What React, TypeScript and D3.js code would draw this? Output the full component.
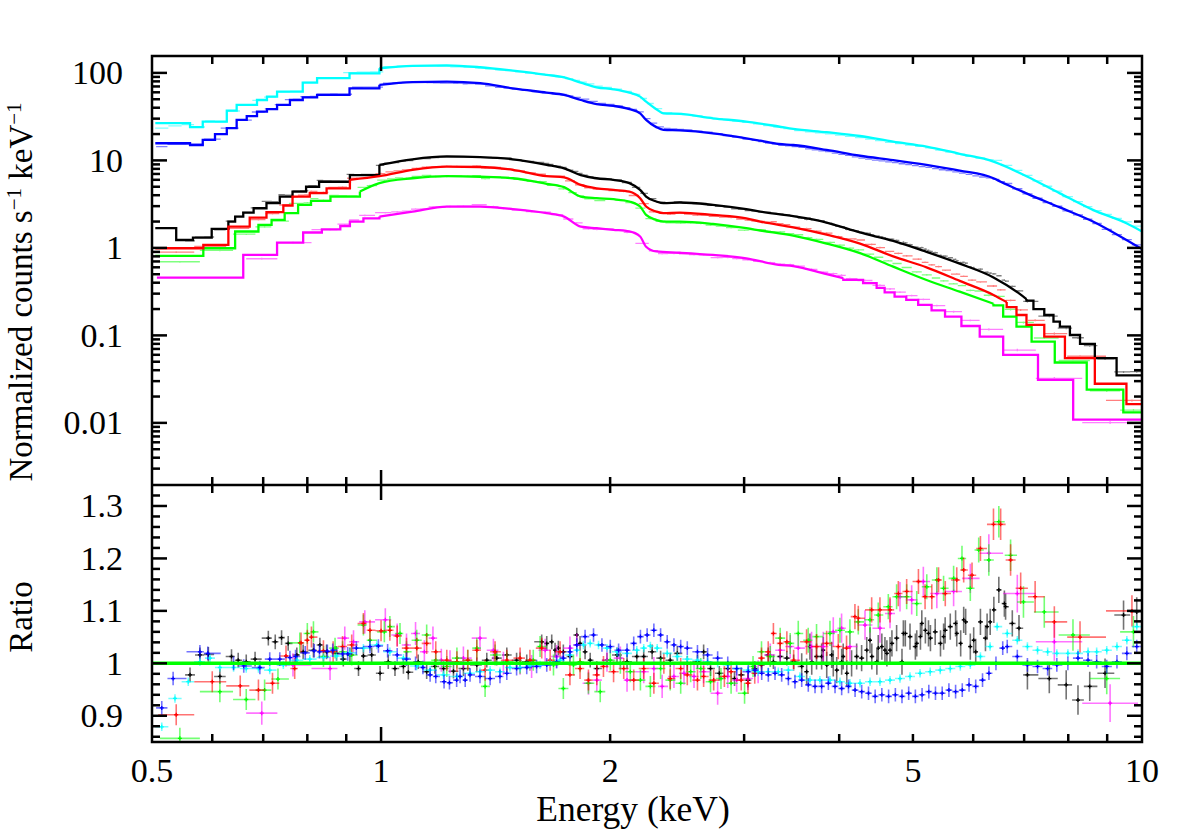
import React from 'react'
import * as d3 from 'd3'

type Pt = [number, number]

// ---------- upper panel: folded model, counts s^-1 keV^-1 ----------
// steps = coarse bins [E_left, value]; smooth = dense part [E, value]; tail = coarse bins at high E

const cyanSteps: Pt[] = [[0.505, 26.6], [0.561, 24.0], [0.583, 27.8], [0.627, 37], [0.646, 43], [0.687, 49], [0.708, 53.6], [0.73, 61], [0.789, 77.5], [0.824, 87], [0.909, 99]]
const cyanSmooth: Pt[] = [[0.995, 113], [1.1, 120], [1.22, 122], [1.35, 116], [1.49, 106], [1.65, 95], [1.74, 89], [1.83, 77.5], [1.92, 68.5], [2.02, 65], [2.12, 59.5], [2.19, 53.6], [2.23, 47], [2.3, 38.5], [2.35, 34.5], [2.47, 34], [2.73, 30.3], [3.02, 27.8], [3.33, 24.4], [3.48, 22.9], [3.85, 21], [4.26, 19.0], [4.71, 16.4], [5.21, 14.4], [5.76, 11.9], [6.38, 9.7], [6.52, 9.0], [7.05, 6.6], [7.8, 4.2], [8.62, 2.72], [9.54, 1.91], [10, 1.54]]
const cyanTail: Pt[] = []

const blueSteps: Pt[] = [[0.505, 15.7], [0.561, 15.0], [0.583, 17.2], [0.605, 20], [0.627, 23.4], [0.646, 29], [0.666, 32], [0.687, 36], [0.708, 38.5], [0.73, 43], [0.759, 49], [0.789, 52.5], [0.824, 56], [0.909, 66.6]]
const blueSmooth: Pt[] = [[0.995, 73], [1.1, 78.5], [1.22, 79.5], [1.35, 76.2], [1.49, 66.6], [1.65, 59.5], [1.74, 56], [1.83, 49], [1.92, 44], [2.02, 42], [2.12, 38.5], [2.19, 34.5], [2.23, 29], [2.3, 24], [2.35, 22.3], [2.47, 22], [2.73, 20.4], [3.02, 17.9], [3.15, 16.8], [3.33, 15.4], [3.48, 15.0], [3.85, 13.2], [4.26, 11.3], [4.71, 10.1], [5.21, 8.9], [5.76, 7.65], [6.38, 6.25], [6.52, 5.7], [7.05, 4.2], [7.8, 2.9], [8.62, 2.0], [9.54, 1.23], [10, 0.97]]
const blueTail: Pt[] = []

const blackSteps: Pt[] = [[0.505, 1.68], [0.538, 1.23], [0.566, 1.31], [0.599, 1.65], [0.63, 2.0], [0.643, 2.28], [0.659, 2.53], [0.68, 2.84], [0.707, 3.24], [0.736, 3.86], [0.765, 4.4], [0.797, 5.0], [0.829, 5.7], [0.91, 6.8]]
const blackSmooth: Pt[] = [[0.995, 8.9], [1.1, 10.3], [1.22, 11.1], [1.35, 10.9], [1.49, 10.3], [1.65, 8.9], [1.74, 8.1], [1.83, 6.8], [1.92, 6.25], [2.02, 6.0], [2.12, 5.5], [2.19, 4.6], [2.23, 3.86], [2.3, 3.39], [2.35, 3.24], [2.47, 3.3], [2.73, 3.1], [3.02, 2.77], [3.15, 2.6], [3.48, 2.3], [3.85, 1.95], [4.26, 1.5], [4.71, 1.2], [5.21, 0.9], [5.76, 0.66], [6.38, 0.46], [6.9, 0.3], [7.05, 0.26]]
const blackTail: Pt[] = [[7.05, 0.25], [7.2, 0.2], [7.44, 0.171], [7.65, 0.144], [7.8, 0.126], [8.04, 0.101], [8.29, 0.08], [8.67, 0.055], [9.26, 0.035]]

const redSteps: Pt[] = [[0.505, 0.99], [0.584, 1.08], [0.63, 1.75], [0.672, 2.22], [0.707, 2.56], [0.744, 3.05], [0.765, 3.86], [0.806, 4.22], [0.848, 4.8]]
const redSmooth: Pt[] = [[0.91, 6.0], [0.995, 6.6], [1.1, 7.8], [1.22, 8.5], [1.35, 8.4], [1.49, 7.8], [1.65, 6.6], [1.74, 6.4], [1.83, 5.25], [1.92, 4.8], [2.02, 4.6], [2.12, 4.4], [2.19, 3.7], [2.23, 2.97], [2.3, 2.6], [2.35, 2.49], [2.47, 2.53], [2.73, 2.38], [3.02, 2.18], [3.15, 2.0], [3.48, 1.72], [3.85, 1.42], [4.26, 1.12], [4.71, 0.8], [5.21, 0.6], [5.76, 0.42], [6.38, 0.29], [6.64, 0.24]]
const redTail: Pt[] = [[6.64, 0.21], [6.84, 0.171], [7.05, 0.132], [7.44, 0.097], [7.92, 0.055], [8.67, 0.028], [9.54, 0.0164]]

const greenSteps: Pt[] = [[0.505, 0.81], [0.584, 0.99], [0.643, 1.54], [0.69, 1.83], [0.718, 2.09], [0.747, 2.49], [0.778, 3.1], [0.809, 3.45], [0.858, 3.86]]
const greenSmooth: Pt[] = [[0.938, 4.4], [0.995, 5.5], [1.1, 6.25], [1.22, 6.6], [1.35, 6.5], [1.49, 6.25], [1.65, 5.4], [1.74, 4.94], [1.83, 3.86], [1.92, 3.7], [2.02, 3.6], [2.12, 3.39], [2.19, 2.97], [2.23, 2.38], [2.3, 2.09], [2.35, 2.0], [2.47, 2.0], [2.73, 1.88], [3.02, 1.68], [3.15, 1.58], [3.48, 1.38], [3.85, 1.12], [4.26, 0.87], [4.71, 0.61], [5.21, 0.43], [5.76, 0.316], [6.38, 0.23]]
const greenTail: Pt[] = [[6.38, 0.22], [6.57, 0.164], [6.84, 0.126], [7.16, 0.085], [7.68, 0.049], [8.46, 0.024], [9.45, 0.0132]]

const magentaSteps: Pt[] = [[0.5075, 0.457], [0.659, 0.83], [0.73, 1.15], [0.79, 1.5], [0.836, 1.63], [0.884, 1.78], [0.91, 2.0], [0.948, 2.18]]
const magentaSmooth: Pt[] = [[0.995, 2.28], [1.1, 2.6], [1.22, 2.97], [1.35, 2.97], [1.49, 2.77], [1.65, 2.49], [1.74, 2.28], [1.83, 1.75], [1.92, 1.68], [2.02, 1.61], [2.12, 1.54], [2.19, 1.35], [2.23, 1.03], [2.3, 0.91], [2.47, 0.88], [2.73, 0.83], [3.02, 0.76], [3.33, 0.64], [3.48, 0.62], [3.85, 0.5], [4.05, 0.45]]
const magentaTail: Pt[] = [[4.05, 0.43], [4.3, 0.395], [4.48, 0.35], [4.59, 0.31], [4.73, 0.277], [4.9, 0.254], [5.08, 0.223], [5.29, 0.193], [5.51, 0.164], [5.79, 0.128], [6.12, 0.097], [6.57, 0.06], [7.3, 0.031], [8.12, 0.0109]]

// ---------- lower panel: data / model ratio [E, ratio] ----------
const blackRatio: Pt[] = [[0.561, 0.978], [0.578, 1.016], [0.593, 1.017], [0.614, 0.975], [0.636, 1.013], [0.649, 1.006], [0.665, 1.003], [0.683, 1.008], [0.711, 1.048], [0.726, 1.041], [0.74, 1.049], [0.755, 1.038], [0.775, 1.016], [0.79, 1.022], [0.815, 1.025], [0.831, 1.035], [0.848, 1.022], [0.874, 1.019], [0.892, 1.008], [0.91, 1.016], [0.934, 0.99], [0.948, 1.014], [0.972, 1.016], [0.997, 0.981], [1.022, 1.003], [1.043, 0.99], [1.07, 0.994], [1.086, 0.983], [1.119, 1.003], [1.148, 0.984], [1.177, 0.994], [1.208, 0.99], [1.245, 0.985], [1.283, 0.99],
  [1.336, 0.997], [1.377, 1.006], [1.419, 1.01], [1.463, 1.016], [1.507, 1.006], [1.554, 1.003], [1.626, 1.041], [1.651, 1.038], [1.676, 1.041], [1.693, 1.025], [1.71, 1.029], [1.736, 1.022], [1.771, 1.013], [1.808, 1.054], [1.826, 1.038], [1.854, 1.022], [1.883, 1.006], [1.921, 0.99], [1.981, 1.006], [2.042, 1.016], [2.105, 1.003], [2.168, 1.013], [2.214, 1.013], [2.271, 1.022], [2.33, 1.01], [2.399, 1.006], [2.451, 1.019], [2.526, 1.0], [2.605, 1.003], [2.654, 1.022], [2.71, 0.99], [2.783, 0.981], [2.855, 0.99], [2.914, 0.971], [2.974, 0.978], [3.035, 0.968], [3.098, 0.99], [3.162, 0.997], [3.227, 1.016], [3.278, 1.003], [3.346, 1.013], [3.414, 1.01], [3.485, 1.003],
  [3.571, 0.994], [3.625, 0.984], [3.661, 1.032], [3.681, 1.003], [3.735, 1.013], [3.793, 1.013], [3.812, 1.025], [3.852, 0.997], [3.91, 1.016], [3.929, 1.0], [3.97, 0.987], [4.03, 1.003], [4.049, 1.013], [4.093, 0.981], [4.153, 1.0], [4.217, 1.013], [4.281, 1.01], [4.348, 1.025], [4.391, 1.044], [4.415, 1.013], [4.483, 1.003], [4.502, 1.029], [4.551, 1.032], [4.594, 1.025], [4.621, 1.019], [4.665, 1.025], [4.692, 1.038], [4.759, 1.048], [4.837, 1.003], [4.857, 1.057], [4.886, 1.057], [4.956, 1.051], [5.037, 1.032], [5.058, 1.038], [5.115, 1.051], [5.136, 1.076], [5.192, 1.063], [5.241, 1.057], [5.272, 1.048], [5.348, 1.06], [5.435, 1.038], [5.486, 1.051], [5.512, 1.063], [5.598, 1.07], [5.689, 1.076], [5.709, 1.057], [5.777, 1.038], [5.83, 1.083], [5.865, 1.079], [5.948, 1.032], [6.009, 1.044], [6.046, 1.022], [6.133, 1.079], [6.227, 1.048], [6.258, 1.07], [6.317, 1.079], [6.387, 1.102], [6.484, 1.14], [6.594, 1.114], [6.618, 1.108], [6.754, 1.076], [6.892, 1.067],
  [7.07, 0.978], [7.554, 0.971], [7.95, 0.959], [8.239, 0.93], [8.537, 0.956], [8.942, 0.981], [9.457, 1.092], [9.842, 1.098]]

const redRatio: Pt[] = [[0.538, 0.902], [0.6, 0.965], [0.653, 0.957], [0.69, 0.949], [0.72, 0.962], [0.75, 1.014], [0.77, 0.99], [0.785, 1.039], [0.8, 1.044], [0.81, 1.05], [0.84, 1.024], [0.865, 1.022], [0.89, 1.032], [0.915, 1.035], [0.948, 1.076], [0.967, 1.063], [1.0, 1.062], [1.027, 1.063], [1.05, 1.052], [1.08, 1.029], [1.114, 1.029], [1.148, 1.038], [1.18, 1.022], [1.22, 1.006], [1.258, 1.003], [1.3, 1.006],
  [1.336, 1.025], [1.37, 0.987], [1.412, 1.022], [1.463, 1.006], [1.523, 1.01], [1.569, 1.006], [1.626, 1.029], [1.668, 1.006], [1.719, 1.022], [1.771, 0.978], [1.826, 0.99], [1.873, 0.968], [1.921, 0.978], [1.96, 0.994], [2.021, 0.984], [2.084, 0.99], [2.148, 0.968], [2.214, 0.99], [2.283, 0.962], [2.353, 1.0], [2.399, 0.971], [2.476, 0.99], [2.526, 0.978], [2.605, 0.968], [2.654, 0.975], [2.736, 0.968], [2.826, 0.975], [2.884, 0.984], [2.974, 0.968], [3.035, 0.962], [3.098, 0.981], [3.162, 1.01], [3.227, 1.022], [3.278, 1.057], [3.346, 1.038], [3.414, 1.041], [3.485, 1.006],
  [3.624, 1.041], [3.735, 1.032], [3.851, 1.038], [3.989, 1.032], [4.09, 1.029], [4.195, 1.089], [4.238, 1.086], [4.413, 1.102], [4.525, 1.102], [4.665, 1.102], [4.784, 1.133], [4.906, 1.137], [5.084, 1.156], [5.187, 1.127], [5.294, 1.127], [5.403, 1.159], [5.514, 1.133], [5.709, 1.159], [5.83, 1.178], [5.979, 1.168], [6.133, 1.219], [6.38, 1.265], [6.52, 1.265], [6.719, 1.197], [6.927, 1.143], [7.237, 1.127], [7.67, 1.079], [8.29, 1.05], [9.7, 1.1]]

const greenRatio: Pt[] = [[0.544, 0.857], [0.614, 0.946], [0.665, 0.931], [0.703, 0.949], [0.732, 0.97], [0.782, 1.039], [0.8, 1.057], [0.815, 1.06], [0.84, 1.013], [0.87, 1.029], [0.89, 1.022], [0.915, 1.016], [0.948, 1.073], [0.967, 1.044], [1.01, 1.06], [1.027, 1.07], [1.059, 1.057], [1.08, 1.022], [1.114, 1.044], [1.148, 1.054], [1.18, 1.006], [1.22, 0.994], [1.258, 1.01], [1.3, 1.006],
  [1.336, 1.029], [1.37, 0.956], [1.412, 1.016], [1.463, 1.003], [1.523, 1.0], [1.585, 1.006], [1.618, 1.032], [1.685, 0.997], [1.736, 0.952], [1.79, 0.997], [1.826, 1.003], [1.873, 0.962], [1.941, 0.946], [2.001, 1.006], [2.063, 1.0], [2.126, 0.984], [2.192, 0.968], [2.259, 0.956], [2.33, 0.99], [2.399, 0.968], [2.476, 0.962], [2.552, 0.984], [2.631, 0.99], [2.71, 0.965], [2.797, 0.971], [2.884, 0.962], [3.004, 0.943], [3.082, 0.994], [3.162, 1.022], [3.247, 1.013], [3.346, 1.048], [3.449, 1.038],
  [3.534, 1.057], [3.642, 1.044], [3.735, 1.051], [3.89, 1.057], [4.009, 1.063], [4.132, 1.06], [4.238, 1.079], [4.391, 1.083], [4.502, 1.092], [4.641, 1.108], [4.759, 1.127], [4.906, 1.127], [5.058, 1.114], [5.214, 1.146], [5.375, 1.159], [5.486, 1.143], [5.655, 1.162], [5.8, 1.2], [5.948, 1.143], [6.101, 1.216], [6.291, 1.197], [6.484, 1.27], [6.719, 1.206], [6.986, 1.117], [7.44, 1.098], [8.115, 1.054], [8.988, 0.971], [9.745, 1.06]]

const magentaRatio: Pt[] = [[0.697, 0.905], [0.766, 0.997], [0.857, 0.99], [0.896, 1.048], [0.92, 1.041], [0.952, 1.079], [1.013, 1.083], [1.05, 1.054], [1.08, 1.035], [1.11, 1.057], [1.14, 1.022], [1.17, 1.048], [1.2, 1.006], [1.232, 1.003], [1.283, 1.01],
  [1.349, 1.048], [1.405, 1.025], [1.448, 1.0], [1.523, 1.0], [1.577, 0.994], [1.643, 1.025], [1.701, 1.013], [1.771, 1.029], [1.808, 1.035], [1.873, 0.962], [1.921, 0.968], [1.981, 1.006], [2.063, 1.01], [2.105, 0.968], [2.214, 0.984], [2.283, 0.99], [2.341, 0.956], [2.426, 0.975], [2.501, 0.981], [2.578, 0.975], [2.654, 0.984], [2.769, 0.943], [2.855, 0.975], [2.933, 0.968], [3.035, 0.971], [3.13, 0.984], [3.247, 1.016], [3.346, 1.025], [3.449, 1.032],
  [3.534, 1.029], [3.679, 1.032], [3.812, 1.032], [3.929, 1.06], [4.029, 1.067], [4.132, 1.032], [4.325, 1.073], [4.525, 1.067], [4.665, 1.095], [4.808, 1.127], [4.981, 1.121], [5.16, 1.156], [5.375, 1.133], [5.655, 1.137], [5.948, 1.162], [6.291, 1.21], [6.857, 1.133], [7.67, 1.041], [9.08, 0.924]]

const blueRatio: Pt[] = [[0.515, 0.915], [0.533, 0.971], [0.578, 1.022], [0.592, 1.019], [0.64, 1.0], [0.66, 0.995], [0.693, 0.992], [0.714, 1.008], [0.736, 1.008], [0.759, 1.011], [0.772, 1.013], [0.795, 1.02], [0.817, 1.024], [0.83, 1.022], [0.85, 1.023], [0.864, 1.025], [0.89, 1.018], [0.904, 1.018], [0.928, 1.029], [0.967, 1.032], [0.992, 1.033], [1.02, 1.024], [1.05, 1.016], [1.08, 1.008], [1.11, 1.0], [1.135, 0.992], [1.16, 0.978], [1.18, 0.975], [1.21, 0.965], [1.23, 0.963], [1.257, 0.968], [1.27, 0.975], [1.29, 0.968],
  [1.309, 0.978], [1.349, 0.975], [1.391, 0.971], [1.433, 0.975], [1.463, 0.981], [1.507, 0.99], [1.554, 0.992], [1.601, 0.994], [1.651, 0.997], [1.701, 1.003], [1.736, 1.01], [1.771, 1.022], [1.808, 1.035], [1.854, 1.051], [1.902, 1.054], [1.951, 1.035], [2.001, 1.032], [2.052, 1.025], [2.105, 1.025], [2.148, 1.038], [2.192, 1.051], [2.237, 1.054], [2.283, 1.063], [2.33, 1.054], [2.377, 1.041], [2.426, 1.035], [2.476, 1.032], [2.526, 1.029], [2.605, 1.022], [2.686, 1.016], [2.769, 1.01], [2.855, 1.0], [2.933, 0.99],
  [3.038, 0.984], [3.1, 0.987], [3.164, 0.981], [3.228, 0.978], [3.294, 0.981], [3.361, 0.978], [3.43, 0.971], [3.499, 0.965], [3.571, 0.968], [3.643, 0.959], [3.718, 0.956], [3.793, 0.956], [3.871, 0.962], [3.95, 0.956], [4.03, 0.952], [4.114, 0.956], [4.197, 0.949], [4.282, 0.946], [4.371, 0.943], [4.46, 0.937], [4.551, 0.94], [4.645, 0.937], [4.741, 0.94], [4.837, 0.937], [4.936, 0.943], [5.037, 0.937], [5.14, 0.94], [5.246, 0.946], [5.353, 0.943], [5.463, 0.943], [5.575, 0.949], [5.689, 0.946], [5.805, 0.949], [5.925, 0.959], [6.046, 0.956], [6.172, 0.968], [6.293, 0.981], [6.428, 1.0], [6.561, 1.029],
  [6.651, 1.032], [6.857, 1.013], [7.07, 0.997], [7.29, 0.994], [7.516, 0.99], [7.728, 0.997], [7.991, 1.0], [8.239, 1.01], [8.494, 1.006], [8.718, 1.003], [8.988, 0.994], [9.27, 1.003], [9.552, 1.019], [9.842, 1.032]]

const cyanRatio: Pt[] = [[0.515, 0.879], [0.536, 0.933], [0.558, 0.965], [0.578, 1.003], [0.596, 1.01], [0.614, 0.992], [0.64, 0.992], [0.665, 0.99], [0.69, 0.99], [0.714, 0.987], [0.744, 0.997], [0.775, 1.006], [0.806, 1.008], [0.84, 1.011], [0.874, 1.014], [0.91, 1.02], [0.948, 1.029], [0.987, 1.035], [1.027, 1.022], [1.07, 1.01], [1.114, 0.995], [1.16, 0.987], [1.208, 0.978], [1.258, 0.975],
  [1.309, 0.981], [1.349, 0.984], [1.391, 0.987], [1.433, 0.984], [1.477, 0.992], [1.523, 0.992], [1.569, 0.995], [1.618, 0.997], [1.668, 1.0], [1.719, 1.006], [1.771, 1.016], [1.808, 1.025], [1.845, 1.035], [1.883, 1.038], [1.931, 1.035], [1.981, 1.029], [2.042, 1.022], [2.105, 1.019], [2.168, 1.025], [2.214, 1.029], [2.259, 1.033], [2.306, 1.029], [2.377, 1.019], [2.451, 1.013], [2.526, 1.008], [2.605, 1.006], [2.686, 1.003], [2.769, 1.0], [2.855, 0.997], [2.933, 0.99], [3.035, 0.987], [3.13, 0.984], [3.227, 0.984], [3.327, 0.984], [3.43, 0.987],
  [3.552, 0.975], [3.661, 0.968], [3.773, 0.968], [3.89, 0.968], [4.009, 0.965], [4.132, 0.962], [4.26, 0.962], [4.391, 0.965], [4.525, 0.965], [4.665, 0.968], [4.808, 0.971], [4.956, 0.975], [5.109, 0.981], [5.268, 0.984], [5.431, 0.987], [5.598, 0.99], [5.771, 0.994], [5.948, 0.997], [6.133, 1.013], [6.315, 1.032], [6.451, 1.07], [6.651, 1.057], [6.857, 1.044], [7.07, 1.032], [7.29, 1.025], [7.516, 1.022], [7.728, 1.019], [7.991, 1.019], [8.239, 1.019], [8.494, 1.022], [8.718, 1.022], [8.988, 1.025], [9.27, 1.032], [9.552, 1.044], [9.842, 1.07]]

// 1-sigma ratio errors by energy band: [upper energy of band, error]
const blackErr: Pt[] = [[3.5, 0.014], [7, 0.025], [10, 0.028]]
const redErr: Pt[] = [[1.4, 0.02], [3.5, 0.02], [6.2, 0.024], [10, 0.03]]
const greenErr: Pt[] = [[1.4, 0.02], [3.5, 0.02], [6.2, 0.024], [10, 0.03]]
const magentaErr: Pt[] = [[3.5, 0.022], [6, 0.028], [10, 0.036]]
const blueErr: Pt[] = [[1.3, 0.013], [10, 0.013]]
const cyanErr: Pt[] = [[10, 0.008]]

const xLabelValues = [0.5, 1, 2, 5, 10]
const xLabels = ['0.5', '1', '2', '5', '10']
const topLabelValues = [0.01, 0.1, 1, 10, 100]
const topLabels = ['0.01', '0.1', '1', '10', '100']
const botLabelValues = [0.9, 1, 1.1, 1.2, 1.3]
const botLabels = ['0.9', '1', '1.1', '1.2', '1.3']

type Series = { color: string, steps: Pt[], smooth: Pt[], tail: Pt[], ratio: Pt[], err: Pt[] }

const series: Series[] = [
  { color: '#000000', steps: blackSteps, smooth: blackSmooth, tail: blackTail, ratio: blackRatio, err: blackErr },
  { color: '#ff00ff', steps: magentaSteps, smooth: magentaSmooth, tail: magentaTail, ratio: magentaRatio, err: magentaErr },
  { color: '#00ff00', steps: greenSteps, smooth: greenSmooth, tail: greenTail, ratio: greenRatio, err: greenErr },
  { color: '#ff0000', steps: redSteps, smooth: redSmooth, tail: redTail, ratio: redRatio, err: redErr },
  { color: '#00ffff', steps: cyanSteps, smooth: cyanSmooth, tail: cyanTail, ratio: cyanRatio, err: cyanErr },
  { color: '#0000ff', steps: blueSteps, smooth: blueSmooth, tail: blueTail, ratio: blueRatio, err: blueErr },
]

const X0 = 152, X1 = 1142, YT = 56, YM = 485, YB = 742
const FONT = '"Liberation Serif", "Times New Roman", serif'

const x = d3.scaleLog().domain([0.5, 10]).range([X0, X1])
const yTop = d3.scaleLog().domain([0.00195, 156]).range([YM, YT])
const yBot = d3.scaleLinear().domain([0.85, 1.34]).range([YB, YM])

const stepLine = d3.line<Pt>().x(d => x(d[0])).y(d => yTop(d[1])).curve(d3.curveStepAfter)
const smoothLine = d3.line<Pt>().x(d => x(d[0])).y(d => yTop(d[1])).curve(d3.curveMonotoneX)

function errAt(bands: Pt[], e: number) {
  for (const [hi, v] of bands) if (e <= hi) return v
  return bands[bands.length - 1][1]
}

function stepValue(bins: Pt[], e: number) {
  let v = bins[0][1]
  for (const [e0, v0] of bins) if (e0 <= e) v = v0
  return v
}

// model value at energy e (places the data crosses on the upper panel: data = model * ratio)
function modelAt(s: Series, e: number) {
  if (e < s.smooth[0][0]) return stepValue(s.steps, e)
  if (s.tail.length && e >= s.tail[0][0]) return stepValue(s.tail, e)
  for (let i = 1; i < s.smooth.length; i++) {
    const [e0, v0] = s.smooth[i - 1], [e1, v1] = s.smooth[i]
    if (e <= e1) {
      const t = Math.log(e / e0) / Math.log(e1 / e0)
      return Math.exp(Math.log(v0) + t * Math.log(v1 / v0))
    }
  }
  return s.smooth[s.smooth.length - 1][1]
}

// horizontal extent of each bin: half way (in log E) to the neighbours
function spans(pts: Pt[]): Pt[] {
  return pts.map((p, i) => {
    const prev = pts[i - 1], next = pts[i + 1]
    let lo = prev ? Math.sqrt(prev[0] * p[0]) : NaN
    let hi = next ? Math.sqrt(next[0] * p[0]) : NaN
    if (isNaN(lo)) lo = (p[0] * p[0]) / hi
    if (isNaN(hi)) hi = (p[0] * p[0]) / lo
    return [lo, hi]
  })
}

function ratioCrosses(s: Series) {
  const p = d3.path()
  const sp = spans(s.ratio)
  s.ratio.forEach(([e, r], i) => {
    const dr = errAt(s.err, e)
    p.moveTo(x(sp[i][0]), yBot(r)); p.lineTo(x(sp[i][1]), yBot(r))
    p.moveTo(x(e), yBot(r - dr)); p.lineTo(x(e), yBot(r + dr))
  })
  return p.toString()
}

function ratioCentres(s: Series) {
  const p = d3.path()
  s.ratio.forEach(([e, r]) => {
    p.moveTo(x(e) - 2, yBot(r)); p.lineTo(x(e) + 2, yBot(r))
    p.moveTo(x(e), yBot(r) - 2); p.lineTo(x(e), yBot(r) + 2)
  })
  return p.toString()
}

function dataCrosses(s: Series) {
  const p = d3.path()
  const sp = spans(s.ratio)
  s.ratio.forEach(([e, r], i) => {
    const dr = errAt(s.err, e)
    const m = modelAt(s, e)
    p.moveTo(x(sp[i][0]), yTop(m * r)); p.lineTo(x(sp[i][1]), yTop(m * r))
    p.moveTo(x(e), yTop(m * (r - dr))); p.lineTo(x(e), yTop(m * (r + dr)))
  })
  return p.toString()
}

function modelPaths(s: Series) {
  const first = s.smooth[0], last = s.smooth[s.smooth.length - 1]
  const out: string[] = []
  out.push(stepLine([...s.steps, first]) || '')
  out.push(smoothLine(s.smooth) || '')
  if (s.tail.length) {
    const lastBin = s.tail[s.tail.length - 1]
    out.push(stepLine([[s.tail[0][0], last[1]], ...s.tail, [10, lastBin[1]]]) || '')
  }
  return out
}

const isDecade = (v: number) => Math.abs(Math.log10(v) - Math.round(Math.log10(v))) < 1e-6
const isTenth = (v: number) => Math.abs(v * 10 - Math.round(v * 10)) < 1e-6

export default function App() {
  const xTicks = x.ticks().filter(v => v > 0.5 + 1e-9 && v < 10 - 1e-9)
  const topTicks = yTop.ticks()
  const botTicks = yBot.ticks(25)
  const ink = '#000'
  const sw = 2.5

  return (
    <svg width={1183} height={830} style={{ display: 'block', position: 'absolute', left: 0, top: 0, background: '#fff' }}>
      <defs>
        <clipPath id="clipTop"><rect x={X0} y={YT} width={X1 - X0} height={YM - YT} /></clipPath>
        <clipPath id="clipBot"><rect x={X0} y={YM} width={X1 - X0} height={YB - YM} /></clipPath>
      </defs>

      {/* upper panel */}
      <g clipPath="url(#clipTop)">
        {series.map((s, i) => (
          <path key={'d' + i} d={dataCrosses(s)} stroke={s.color} strokeWidth={1.3} strokeOpacity={0.5} fill="none" />
        ))}
        {series.map((s, i) => modelPaths(s).map((d, j) => (
          <path key={'m' + i + '-' + j} d={d} stroke={s.color} strokeWidth={2.3} fill="none" />
        )))}
      </g>

      {/* lower panel */}
      <g clipPath="url(#clipBot)">
        {series.map((s, i) => (
          <g key={'r' + i}>
            <path d={ratioCrosses(s)} stroke={s.color} strokeWidth={1.6} strokeOpacity={0.55} fill="none" />
            <path d={ratioCentres(s)} stroke={s.color} strokeWidth={1.3} fill="none" />
          </g>
        ))}
        <line x1={X0} x2={X1} y1={yBot(1)} y2={yBot(1)} stroke="#00ff00" strokeWidth={3.5} />
      </g>

      {/* ticks on x edges */}
      {xTicks.map(v => {
        const len = isDecade(v) ? 15 : 8
        const xx = x(v)
        return (
          <g key={'xt' + v} stroke={ink} strokeWidth={sw}>
            <line x1={xx} x2={xx} y1={YT} y2={YT + len} />
            <line x1={xx} x2={xx} y1={YM} y2={YM - len} />
            <line x1={xx} x2={xx} y1={YM} y2={YM + len} />
            <line x1={xx} x2={xx} y1={YB} y2={YB - len} />
          </g>
        )
      })}
      {topTicks.map(v => {
        const len = isDecade(v) ? 15 : 8
        const yy = yTop(v)
        if (yy < YT + 1 || yy > YM - 1) return null
        return (
          <g key={'yt' + v} stroke={ink} strokeWidth={sw}>
            <line x1={X0} x2={X0 + len} y1={yy} y2={yy} />
            <line x1={X1} x2={X1 - len} y1={yy} y2={yy} />
          </g>
        )
      })}
      {botTicks.map(v => {
        const len = isTenth(v) ? 15 : 8
        const yy = yBot(v)
        if (yy < YM + 1 || yy > YB - 1) return null
        return (
          <g key={'yb' + v} stroke={ink} strokeWidth={sw}>
            <line x1={X0} x2={X0 + len} y1={yy} y2={yy} />
            <line x1={X1} x2={X1 - len} y1={yy} y2={yy} />
          </g>
        )
      })}

      {/* frame */}
      <rect x={X0} y={YT} width={X1 - X0} height={YB - YT} fill="none" stroke={ink} strokeWidth={sw} />
      <line x1={X0} x2={X1} y1={YM} y2={YM} stroke={ink} strokeWidth={sw} />

      {/* labels */}
      <g fontFamily={FONT} fill={ink}>
        <g fontSize={34}>
          {topLabelValues.map((v, i) => (
            <text key={'tl' + i} x={123} y={yTop(v) + 11.5} textAnchor="end">{topLabels[i]}</text>
          ))}
          {botLabelValues.map((v, i) => (
            <text key={'bl' + i} x={123} y={yBot(v) + 11.5} textAnchor="end">{botLabels[i]}</text>
          ))}
          {xLabelValues.map((v, i) => (
            <text key={'xl' + i} x={x(v)} y={782} textAnchor="middle">{xLabels[i]}</text>
          ))}
        </g>
        <text x={633} y={821} fontSize={35.5} textAnchor="middle">Energy (keV)</text>
        <text transform={`translate(32, 292) rotate(-90)`} fontSize={33} textAnchor="middle">
          Normalized counts s<tspan fontSize={21} dy={-11}>−1</tspan><tspan dy={11}> keV</tspan><tspan fontSize={21} dy={-11}>−1</tspan>
        </text>
        <text transform={`translate(32, 617) rotate(-90)`} fontSize={33} textAnchor="middle">Ratio</text>
      </g>
    </svg>
  )
}
